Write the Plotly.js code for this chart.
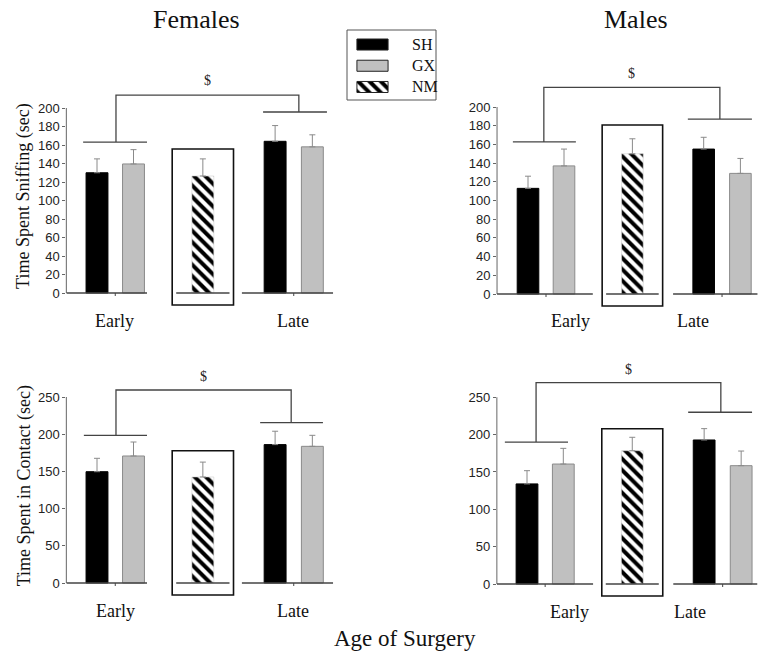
<!DOCTYPE html>
<html><head><meta charset="utf-8">
<script src="https://cdn.plot.ly/plotly-3.0.1.min.js"></script>
<style>html,body{margin:0;padding:0;background:#fff}#chart{width:758px;height:658px}</style>
</head><body><div id="chart"></div>
<script>
// ---------------- data (order: [Early, Late]) ----------------
const groupNames = ['SH', 'GX', 'NM'];
const ageLabels = ['Early', 'Late'];

const femSniffSH = [130, 164];
const femSniffSHerr = [15, 17];
const femSniffGX = [139.5, 158];
const femSniffGXerr = [15.5, 13];
const femSniffNM = [126.5];
const femSniffNMerr = [18.5];

const maleSniffSH = [113, 155];
const maleSniffSHerr = [13, 12.6];
const maleSniffGX = [137, 129];
const maleSniffGXerr = [18, 16];
const maleSniffNM = [150];
const maleSniffNMerr = [16];

const femContactSH = [149.6, 186];
const femContactSHerr = [18, 18];
const femContactGX = [170.7, 183.7];
const femContactGXerr = [18.8, 14.8];
const femContactNM = [142.5];
const femContactNMerr = [20];

const maleContactSH = [134, 192.8];
const maleContactSHerr = [17.7, 15.2];
const maleContactGX = [160.6, 158.4];
const maleContactGXerr = [21, 19.6];
const maleContactNM = [178.4];
const maleContactNMerr = [18];

const sniffTicks = [0, 20, 40, 60, 80, 100, 120, 140, 160, 180, 200];
const contactTicks = [0, 50, 100, 150, 200, 250];

// ---------------- layout constants ----------------
const W = 758, H = 658;
const SLOT = {SH: [0, 4.88], GX: [1, 5.9], NM: [2.9]};
const BARW = 0.6;
const SERIF = 'Liberation Serif, Times New Roman, serif';
const SANS = 'Liberation Sans, Arial, sans-serif';

const panels = [
  {x0: 97, ux: 36.5, xr: [-0.84, 6.47], y0: 293, k: 0.925, yr: [-40, 240], ticks: sniffTicks,
   eEnd: 1.37, lStart: 3.97, boxTop: 155.7,
   br: {e: [-0.38, 1.37, 163, 0.52], l: [4.55, 6.30, 195.7, 5.53], top: 214, dollar: 230},
   lab: {early: 0.49, late: 5.37, y: -30.3},
   SH: femSniffSH, SHe: femSniffSHerr, GX: femSniffGX, GXe: femSniffGXerr, NM: femSniffNM, NMe: femSniffNMerr,
   title: 'Time Spent Sniffing (sec)'},
  {x0: 528, ux: 36, xr: [-0.86, 6.38], y0: 294, k: 0.935, yr: [-40, 245], ticks: sniffTicks,
   eEnd: 1.8, lStart: 4.03, boxTop: 180.7,
   br: {e: [-0.42, 1.33, 162.6, 0.44], l: [4.44, 6.22, 187, 5.33], top: 221, dollar: 236},
   lab: {early: 1.19, late: 4.57, y: -28.9},
   SH: maleSniffSH, SHe: maleSniffSHerr, GX: maleSniffGX, GXe: maleSniffGXerr, NM: maleSniffNM, NMe: maleSniffNMerr,
   title: null},
  {x0: 97, ux: 36.5, xr: [-0.84, 6.47], y0: 583, k: 0.744, yr: [-50, 300], ticks: contactTicks,
   eEnd: 1.37, lStart: 3.97, boxTop: 177.8,
   br: {e: [-0.36, 1.37, 198.5, 0.52], l: [4.47, 6.19, 215.5, 5.32], top: 259.4, dollar: 277},
   lab: {early: 0.52, late: 5.37, y: -37.6},
   SH: femContactSH, SHe: femContactSHerr, GX: femContactGX, GXe: femContactGXerr, NM: femContactNM, NMe: femContactNMerr,
   title: 'Time Spent in Contact (sec)'},
  {x0: 527, ux: 36.3, xr: [-0.83, 6.35], y0: 584, k: 0.747, yr: [-50, 305], ticks: contactTicks,
   eEnd: 1.82, lStart: 4.03, boxTop: 207.9,
   br: {e: [-0.61, 1.13, 190, 0.25], l: [4.44, 6.20, 229.9, 5.34], top: 269.5, dollar: 286.5},
   lab: {early: 1.18, late: 4.5, y: -37.6},
   SH: maleContactSH, SHe: maleContactSHerr, GX: maleContactGX, GXe: maleContactGXerr, NM: maleContactNM, NMe: maleContactNMerr,
   title: null}
];

const traces = [];
const shapes = [];
const annotations = [];
const layout = {
  width: W, height: H, margin: {l: 0, r: 0, t: 0, b: 0},
  paper_bgcolor: '#fff', plot_bgcolor: 'rgba(0,0,0,0)',
  showlegend: false, barmode: 'overlay', font: {family: SANS, color: '#111'}
};

const styles = {
  SH: {color: '#000', line: {color: '#000', width: 1}},
  GX: {color: '#c0c0c0', line: {color: '#8a8a8a', width: 1}},
  NM: {color: '#fff', line: {color: '#d0d0d0', width: 0.6},
       pattern: {shape: '\\', fgcolor: '#000', bgcolor: '#fff', size: 8, solidity: 0.5}}
};

function txt(o) {
  return Object.assign({showarrow: false, xanchor: 'center', yanchor: 'middle'}, o);
}

panels.forEach((p, i) => {
  const n = i === 0 ? '' : String(i + 1);
  const xa = 'x' + n, ya = 'y' + n;
  const xd = [(p.x0 + p.xr[0] * p.ux) / W, (p.x0 + p.xr[1] * p.ux) / W];
  const yd = [1 - (p.y0 - p.yr[0] * p.k) / H, 1 - (p.y0 - p.yr[1] * p.k) / H];
  layout['xaxis' + n] = {domain: xd, range: p.xr, visible: false, anchor: ya, fixedrange: true};
  layout['yaxis' + n] = {domain: yd, range: p.yr, anchor: xa, showline: false, zeroline: false, showgrid: false,
    tickmode: 'array', tickvals: p.ticks, ticktext: p.ticks.map(String), ticks: 'outside', ticklen: 3,
    tickcolor: '#666', tickwidth: 1, tickfont: {family: SANS, size: 13, color: '#222'}, fixedrange: true};

  groupNames.forEach(g => {
    traces.push({
      type: 'bar', xaxis: xa, yaxis: ya, name: g, x: SLOT[g], y: p[g], width: BARW,
      marker: styles[g],
      error_y: {type: 'data', symmetric: false, array: p[g + 'e'], arrayminus: p[g].map(() => 0),
                color: '#8a8a8a', thickness: 1, width: 3},
      hoverinfo: 'skip'
    });
  });

  const ymax = p.ticks[p.ticks.length - 1];
  const axc = '#444';
  // y axis line (0 .. max tick)
  shapes.push({type: 'line', xref: xa + ' domain', yref: ya, x0: 0, x1: 0, y0: 0, y1: ymax, line: {color: '#666', width: 1}});
  // broken baseline
  const nm = SLOT.NM[0];
  shapes.push({type: 'line', xref: xa, yref: ya, x0: p.xr[0], x1: p.eEnd, y0: 0, y1: 0, line: {color: axc, width: 1.5}});
  shapes.push({type: 'line', xref: xa, yref: ya, x0: nm - 0.73, x1: nm + 0.73, y0: 0, y1: 0, line: {color: axc, width: 1.5}});
  shapes.push({type: 'line', xref: xa, yref: ya, x0: p.lStart, x1: p.xr[1], y0: 0, y1: 0, line: {color: axc, width: 1.5}});
  // group ticks
  [(SLOT.SH[0] + SLOT.GX[0]) / 2, (SLOT.SH[1] + SLOT.GX[1]) / 2].forEach(c => {
    shapes.push({type: 'line', xref: xa, yref: ya, x0: c, x1: c, y0: 0, y1: -3 / p.k, line: {color: axc, width: 1}});
  });
  // box around NM
  shapes.push({type: 'rect', xref: xa, yref: ya, x0: nm - 0.84, x1: nm + 0.84, y0: -12 / p.k, y1: p.boxTop,
    line: {color: '#111', width: 1.6}, fillcolor: 'rgba(0,0,0,0)'});
  // significance bracket
  const e = p.br.e, l = p.br.l;
  const path = `M${e[0]},${e[2]} L${e[1]},${e[2]} M${e[3]},${e[2]} L${e[3]},${p.br.top} L${l[3]},${p.br.top} L${l[3]},${l[2]} M${l[0]},${l[2]} L${l[1]},${l[2]}`;
  shapes.push({type: 'path', xref: xa, yref: ya, path: path, line: {color: '#444', width: 1.3}});
  annotations.push(txt({xref: xa, yref: ya, x: (e[3] + l[3]) / 2, y: p.br.dollar, text: '$',
    font: {family: SERIF, size: 14, color: '#222'}}));
  // Early / Late
  annotations.push(txt({xref: xa, yref: ya, x: p.lab.early, y: p.lab.y, text: ageLabels[0],
    font: {family: SERIF, size: 18, color: '#111'}}));
  annotations.push(txt({xref: xa, yref: ya, x: p.lab.late, y: p.lab.y, text: ageLabels[1],
    font: {family: SERIF, size: 18, color: '#111'}}));
  if (p.title) {
    annotations.push(txt({xref: 'paper', yref: ya, x: 24 / W, y: (p.yr[0] + p.yr[1]) / 2 + 5, text: p.title, textangle: -90,
      font: {family: SERIF, size: 18, color: '#111'}}));
  }
});

// panel titles & common x title
annotations.push(txt({xref: 'paper', yref: 'paper', x: 196 / W, y: 1 - 20 / H, text: 'Females',
  font: {family: SERIF, size: 26, color: '#111'}}));
annotations.push(txt({xref: 'paper', yref: 'paper', x: 635.5 / W, y: 1 - 20 / H, text: 'Males',
  font: {family: SERIF, size: 26, color: '#111'}}));
annotations.push(txt({xref: 'paper', yref: 'paper', x: 405 / W, y: 1 - 638 / H, text: 'Age of Surgery',
  font: {family: SERIF, size: 23, color: '#111'}}));

// ---------------- legend (own small subplot) ----------------
layout.xaxis5 = {domain: [356 / W, 389 / W], range: [-0.03, 1.03], visible: false, anchor: 'y5', fixedrange: true};
layout.yaxis5 = {domain: [1 - 97.6 / H, 1 - 33.9 / H], range: [2.5, -0.5], visible: false, anchor: 'x5',
  type: 'category', categoryorder: 'array', categoryarray: groupNames, fixedrange: true};
groupNames.forEach(g => {
  traces.push({type: 'bar', orientation: 'h', xaxis: 'x5', yaxis: 'y5', y: [g], x: [1], width: 0.52,
    marker: Object.assign({}, styles[g], {line: {color: '#222', width: 1}}), hoverinfo: 'skip'});
});
shapes.push({type: 'rect', xref: 'paper', yref: 'paper', x0: 347 / W, x1: 436 / W, y0: 1 - 100 / H, y1: 1 - 30 / H,
  line: {color: '#555', width: 1}, fillcolor: 'rgba(0,0,0,0)'});
const legY = [44.5, 66, 87];
groupNames.forEach((g, i) => {
  annotations.push(txt({xref: 'paper', yref: 'paper', x: 410 / W, y: 1 - legY[i] / H, text: g,
    xanchor: 'left', font: {family: SERIF, size: 16, color: '#111'}}));
});

layout.shapes = shapes;
layout.annotations = annotations;

Plotly.newPlot('chart', traces, layout, {staticPlot: true, displayModeBar: false});
</script>
</body></html>
